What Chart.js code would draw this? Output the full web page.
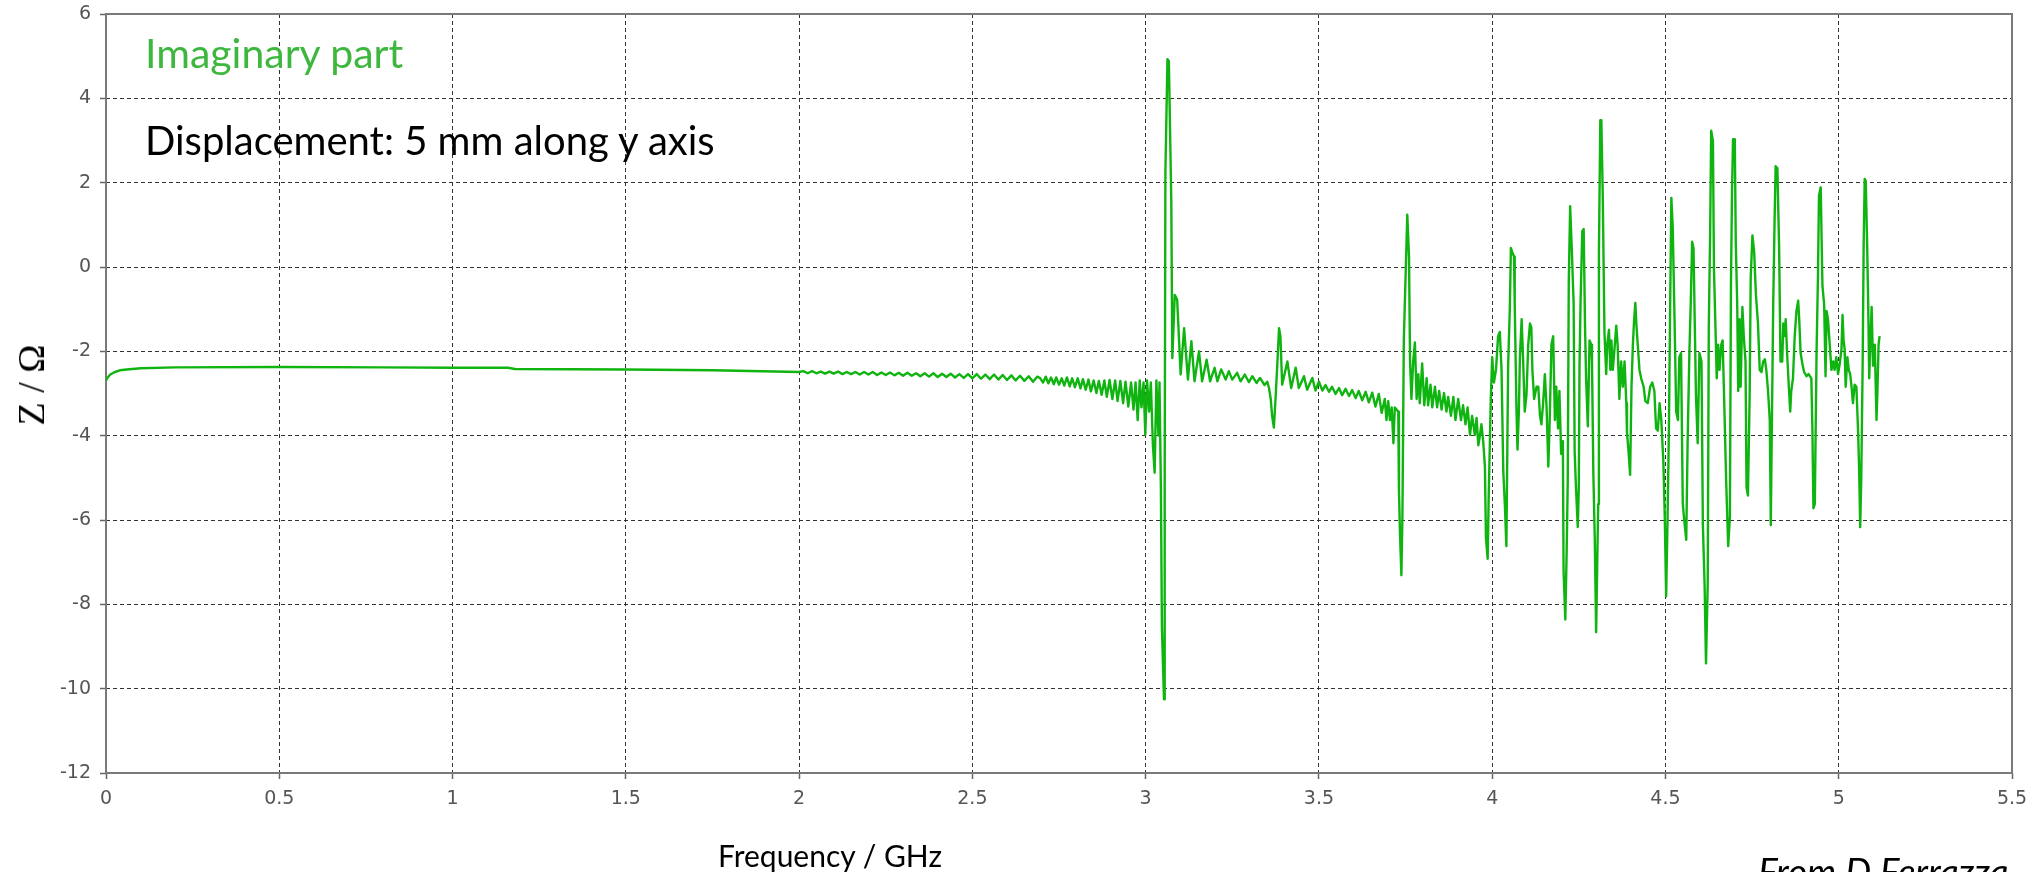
<!DOCTYPE html>
<html>
<head>
<meta charset="utf-8">
<script src="https://cdn.jsdelivr.net/npm/chart.js@4.4.1/dist/chart.umd.min.js"></script>
<style>
  html, body { margin: 0; padding: 0; background: #fff; }
  #wrap { position: relative; width: 2040px; height: 872px; overflow: hidden; background: #fff; }
  .note { position: absolute; white-space: nowrap; line-height: 1; font-family: Lato, "Open Sans", sans-serif; }
</style>
</head>
<body>
<div id="wrap">
  <canvas id="impChart" width="2040" height="872"></canvas>
  <div class="note" style="left:145px; top:32px; font-size:41px; color:#3db73d;">Imaginary part</div>
  <div class="note" style="left:145px; top:120px; font-size:40px; color:#000;">Displacement: 5 mm along y axis</div>
  <div class="note" style="left:830px; top:840px; font-size:30px; color:#000; transform:translateX(-50%);">Frequency / GHz</div>
  <div class="note" style="left:1758px; top:852px; font-size:37px; color:#000; font-style:italic;">From D Ferrazza</div>
  <div class="note" style="left:31px; top:385px; font-size:38px; color:#000; font-family:'Liberation Serif', serif; transform:translate(-50%,-50%) rotate(-90deg);">Z / Ω</div>
</div>
<script>
// axis ticks
const xTicks = [0, 0.5, 1, 1.5, 2, 2.5, 3, 3.5, 4, 4.5, 5, 5.5];
const yTicks = [-12, -10, -8, -6, -4, -2, 0, 2, 4, 6];

// flat part (0 - 2 GHz)
const freqFlat = [0, 0.005, 0.012, 0.026, 0.04, 0.06, 0.1, 0.2, 0.5, 0.8, 1.0, 1.16, 1.18, 1.5, 1.75, 2.0];
const zFlat = [-2.69, -2.62, -2.55, -2.49, -2.45, -2.43, -2.40, -2.38, -2.37, -2.38, -2.39, -2.39, -2.42, -2.43, -2.45, -2.49];

// small ripple (2 - 2.7 GHz)
const freqRipple = [2.0125, 2.025, 2.0375, 2.05, 2.0625, 2.075, 2.0875, 2.1, 2.1125, 2.125,
  2.1375, 2.15, 2.1625, 2.175, 2.1875, 2.2, 2.2125, 2.225, 2.2375, 2.25,
  2.2625, 2.275, 2.2875, 2.3, 2.3125, 2.325, 2.3375, 2.35, 2.3625, 2.375,
  2.3875, 2.4, 2.4125, 2.425, 2.4375, 2.45, 2.4625, 2.475, 2.4875, 2.5,
  2.5125, 2.525, 2.5375, 2.55, 2.5625, 2.575, 2.5875, 2.6, 2.6125, 2.625,
  2.6375, 2.65, 2.6625, 2.675, 2.6875];
const zRipple = [-2.47, -2.52, -2.47, -2.52, -2.48, -2.53, -2.48, -2.53, -2.48, -2.54,
  -2.49, -2.54, -2.49, -2.55, -2.49, -2.55, -2.49, -2.56, -2.50, -2.56,
  -2.50, -2.57, -2.51, -2.58, -2.51, -2.58, -2.52, -2.59, -2.52, -2.60,
  -2.52, -2.61, -2.53, -2.61, -2.53, -2.62, -2.54, -2.63, -2.54, -2.64,
  -2.54, -2.65, -2.55, -2.66, -2.55, -2.67, -2.56, -2.68, -2.57, -2.69,
  -2.58, -2.70, -2.59, -2.72, -2.60];

// first resonance (~3.05 GHz)
const freqMode1 = [2.696, 2.704, 2.712, 2.719, 2.727, 2.735, 2.742, 2.750, 2.758, 2.765,
  2.773, 2.781, 2.788, 2.796, 2.804, 2.812, 2.819, 2.827, 2.835, 2.842,
  2.850, 2.858, 2.865, 2.873, 2.881, 2.888, 2.896, 2.904, 2.912, 2.919,
  2.927, 2.935, 2.942, 2.950, 2.958, 2.965, 2.971, 2.977, 2.983, 2.988,
  2.994, 2.999, 3.004, 3.010, 3.015, 3.021, 3.026, 3.031, 3.037, 3.040,
  3.044, 3.047, 3.050, 3.053, 3.055, 3.057, 3.060, 3.063, 3.067,
  3.074, 3.077, 3.084, 3.091, 3.101, 3.111, 3.122, 3.132, 3.141, 3.154,
  3.163, 3.176, 3.186];
const zMode1 = [-2.64, -2.74, -2.60, -2.76, -2.62, -2.78, -2.62, -2.79, -2.64, -2.81,
  -2.62, -2.83, -2.64, -2.85, -2.64, -2.88, -2.66, -2.91, -2.67, -2.95,
  -2.69, -2.99, -2.70, -3.03, -2.69, -3.08, -2.68, -3.13, -2.69, -3.18,
  -2.70, -3.23, -2.72, -3.31, -2.74, -3.38, -2.74, -3.63, -2.69, -3.33,
  -2.74, -3.98, -2.69, -3.43, -2.74, -4.23, -4.88, -2.69, -4.00, -2.74,
  -5.22, -8.56, -9.40, -10.25, -5.27, 2.24, 3.58, 4.93, 4.88,
  1.58, -2.16, -0.66, -0.78, -2.55, -1.45, -2.67, -1.76, -2.71, -2.00,
  -2.71, -2.20, -2.71];

// 3.2 - 3.69 GHz
const freqMode2 = [3.199, 3.207, 3.218, 3.231, 3.240, 3.250, 3.264, 3.274, 3.286, 3.298,
  3.308, 3.320, 3.330, 3.343, 3.351, 3.356, 3.361, 3.365, 3.370, 3.375,
  3.380, 3.385, 3.389, 3.394, 3.409, 3.420, 3.433, 3.442, 3.457, 3.466,
  3.481, 3.490, 3.500, 3.510, 3.519, 3.529, 3.538, 3.548, 3.558, 3.567,
  3.577, 3.587, 3.596, 3.606, 3.615, 3.625, 3.635, 3.644, 3.654, 3.663,
  3.673, 3.681];
const zMode2 = [-2.39, -2.71, -2.43, -2.67, -2.47, -2.67, -2.51, -2.71, -2.55, -2.73,
  -2.59, -2.75, -2.63, -2.80, -2.72, -2.87, -3.13, -3.53, -3.81, -3.10,
  -2.30, -1.45, -1.65, -2.79, -2.24, -2.87, -2.39, -2.87, -2.59, -2.91,
  -2.63, -2.93, -2.72, -2.93, -2.80, -2.96, -2.84, -3.01, -2.87, -3.04,
  -2.89, -3.06, -2.92, -3.11, -2.94, -3.16, -2.96, -3.21, -2.98, -3.31,
  -3.01, -3.46];

// 3.69 - 4.18 GHz
const freqMode3 = [3.690, 3.695, 3.700, 3.705, 3.710, 3.715, 3.719, 3.724, 3.729, 3.731,
  3.734, 3.738, 3.741, 3.745, 3.750, 3.755, 3.760, 3.763, 3.767, 3.772,
  3.777, 3.782, 3.787, 3.791, 3.798, 3.804, 3.811, 3.815, 3.822, 3.827,
  3.835, 3.841, 3.847, 3.854, 3.861, 3.868, 3.873, 3.881, 3.888, 3.894,
  3.902, 3.910, 3.916, 3.923, 3.929, 3.936, 3.942, 3.950, 3.955, 3.960,
  3.964, 3.969, 3.974, 3.979, 3.982, 3.987, 3.990, 3.996, 4.000, 4.005,
  4.011, 4.017, 4.022, 4.027, 4.032, 4.037, 4.041, 4.046, 4.051, 4.054,
  4.058, 4.063, 4.065, 4.070, 4.073, 4.077, 4.080, 4.085, 4.089, 4.094,
  4.099, 4.104, 4.109, 4.113, 4.116, 4.121, 4.128, 4.133, 4.138, 4.142,
  4.147, 4.152, 4.157, 4.162, 4.166, 4.171, 4.176, 4.181];
const zMode3 = [-3.13, -3.63, -3.18, -3.63, -3.33, -4.18, -3.33, -3.38, -3.43, -5.32,
  -6.32, -7.31, -5.92, -1.74, -0.25, 1.24, 0.25, -2.24, -3.13, -2.24,
  -1.79, -3.13, -2.54, -3.23, -2.29, -3.28, -2.64, -3.28, -2.79, -3.33,
  -2.84, -3.33, -2.94, -3.38, -2.99, -3.43, -3.08, -3.53, -3.08, -3.63,
  -3.13, -3.63, -3.28, -3.73, -3.33, -3.98, -3.53, -3.98, -3.58, -4.23,
  -4.03, -3.73, -4.13, -4.73, -6.42, -6.92, -5.42, -3.13, -2.14, -2.74,
  -2.44, -1.64, -1.54, -2.44, -4.83, -5.72, -6.62, -2.34, -0.95, 0.45,
  0.35, 0.25, -0.85, -3.33, -4.33, -3.43, -2.14, -1.24, -2.14, -3.43,
  -3.03, -1.84, -1.34, -1.44, -2.44, -3.13, -2.84, -2.84, -3.53, -3.73,
  -3.23, -2.54, -3.33, -4.73, -3.63, -1.84, -1.64, -3.63];

// 4.18 - 4.68 GHz
const freqMode4 = [4.185, 4.190, 4.194, 4.199, 4.204, 4.206, 4.211, 4.215, 4.218, 4.221,
  4.225, 4.230, 4.235, 4.238, 4.242, 4.247, 4.250, 4.252, 4.255, 4.260,
  4.264, 4.268, 4.271, 4.276, 4.281, 4.286, 4.288, 4.292, 4.296, 4.300,
  4.303, 4.306, 4.308, 4.312, 4.315, 4.319, 4.324, 4.329, 4.332, 4.337,
  4.341, 4.344, 4.348, 4.353, 4.358, 4.362, 4.367, 4.372, 4.377, 4.382,
  4.387, 4.389, 4.394, 4.398, 4.402, 4.406, 4.409, 4.413, 4.416, 4.420,
  4.425, 4.430, 4.437, 4.442, 4.449, 4.456, 4.462, 4.468, 4.473, 4.478,
  4.483, 4.488, 4.494, 4.498, 4.502, 4.506, 4.510, 4.513, 4.517, 4.521,
  4.526, 4.531, 4.536, 4.540, 4.545, 4.550, 4.555, 4.560, 4.564, 4.569,
  4.573, 4.577, 4.581, 4.585, 4.588, 4.593, 4.598, 4.604, 4.608, 4.613,
  4.617, 4.622, 4.625, 4.629, 4.632, 4.637, 4.640, 4.644, 4.648, 4.652,
  4.656, 4.661, 4.665, 4.670, 4.675, 4.681];
const zMode4 = [-2.84, -3.83, -2.94, -4.43, -4.13, -7.21, -8.36, -6.72, -5.12, -0.35,
  1.44, 0.35, -0.85, -4.38, -5.27, -6.17, -5.22, -2.34, -0.85, 0.85,
  0.90, -1.44, -2.64, -3.78, -1.74, -1.84, -2.24, -4.93, -6.42, -8.66,
  -7.11, -5.62, 0.35, 3.48, 3.48, 1.74, -1.54, -2.54, -1.84, -1.49,
  -2.44, -1.74, -2.44, -1.94, -1.39, -1.84, -3.13, -2.24, -2.84, -2.24,
  -3.23, -3.93, -4.43, -4.93, -2.84, -1.84, -1.34, -0.85, -1.34, -1.84,
  -2.44, -2.64, -2.84, -3.18, -3.23, -2.84, -2.74, -2.94, -3.83, -3.88,
  -3.23, -3.63, -4.63, -5.92, -7.81, -6.02, -3.83, -1.34, 1.64, 0.95,
  -1.14, -3.43, -3.63, -2.14, -2.04, -5.62, -6.07, -6.47, -4.13, -2.04,
  -0.85, 0.60, 0.45, -1.54, -3.03, -4.18, -2.04, -2.24, -6.12, -7.56,
  -9.40, -7.51, -1.44, 0.85, 3.23, 2.99, -0.05, -1.34, -2.64, -1.84,
  -2.44, -1.84, -1.74, -3.33, -5.02, -6.62];

// 4.68 - 5.12 GHz
const freqMode5 = [4.686, 4.689, 4.692, 4.695, 4.700, 4.703, 4.707, 4.710, 4.714, 4.717,
  4.722, 4.726, 4.731, 4.734, 4.738, 4.743, 4.746, 4.751, 4.756, 4.761,
  4.767, 4.772, 4.777, 4.782, 4.787, 4.791, 4.796, 4.801, 4.804, 4.806,
  4.811, 4.815, 4.818, 4.823, 4.828, 4.832, 4.837, 4.840, 4.844, 4.847,
  4.851, 4.856, 4.860, 4.863, 4.868, 4.873, 4.878, 4.883, 4.886, 4.890,
  4.895, 4.900, 4.907, 4.913, 4.921, 4.924, 4.927, 4.931, 4.936, 4.940,
  4.943, 4.948, 4.953, 4.958, 4.962, 4.965, 4.969, 4.974, 4.979, 4.984,
  4.988, 4.993, 4.998, 5.003, 5.008, 5.011, 5.014, 5.017, 5.020, 5.025,
  5.029, 5.033, 5.037, 5.041, 5.046, 5.051, 5.056, 5.059, 5.062, 5.065,
  5.069, 5.072, 5.075, 5.078, 5.082, 5.085, 5.088, 5.091, 5.095, 5.099,
  5.104, 5.109, 5.112, 5.115, 5.118];
const zMode5 = [-5.92, -0.45, 1.74, 3.03, 3.03, 0.55, -0.85, -2.94, -1.24, -2.84,
  -0.95, -1.64, -2.24, -5.22, -5.42, -3.03, -0.25, 0.75, 0.35, -0.65,
  -1.34, -2.44, -2.49, -2.24, -2.19, -2.44, -2.94, -3.63, -6.12, -4.53,
  -0.85, 1.14, 2.39, 2.34, 0.45, -2.24, -2.24, -1.34, -1.64, -1.24,
  -2.04, -2.84, -3.43, -2.94, -2.64, -1.64, -1.04, -0.80, -1.24, -2.04,
  -2.29, -2.49, -2.59, -2.54, -2.64, -3.83, -5.72, -5.62, -2.04, -0.25,
  1.69, 1.89, -0.45, -0.90, -2.59, -1.04, -1.24, -1.84, -2.44, -2.24,
  -2.44, -2.14, -2.54, -2.29, -1.94, -1.14, -1.74, -1.94, -2.84, -2.14,
  -2.44, -2.54, -2.84, -3.23, -2.79, -2.84, -3.93, -4.83, -6.17, -5.02,
  -2.34, 0.55, 2.09, 2.04, 0.55, -0.85, -2.64, -1.84, -0.95, -2.34,
  -1.84, -3.63, -2.84, -1.84, -1.64];

const segments = [
  [freqFlat, zFlat], [freqRipple, zRipple], [freqMode1, zMode1], [freqMode2, zMode2],
  [freqMode3, zMode3], [freqMode4, zMode4], [freqMode5, zMode5]
];
const points = [];
segments.forEach(([f, z]) => {
  const n = Math.min(f.length, z.length);
  for (let i = 0; i < n; i++) points.push({ x: f[i], y: z[i] });
});

// solid grey box round the plot area
const plotFrame = {
  id: 'plotFrame',
  beforeDatasetsDraw(chart) {
    const { ctx, chartArea: a } = chart;
    ctx.save();
    ctx.setLineDash([]);
    ctx.strokeStyle = '#7a7a7a';
    ctx.lineWidth = 2;
    ctx.strokeRect(a.left, a.top, a.right - a.left, a.bottom - a.top);
    ctx.restore();
  }
};

const gridStyle = {
  color: '#333',
  lineWidth: 1,
  tickLength: 6,
  tickColor: '#666',
  tickWidth: 1.5,
  tickBorderDash: []
};

const ctx = document.getElementById('impChart').getContext('2d');
new Chart(ctx, {
  type: 'line',
  data: {
    datasets: [{
      data: points,
      borderColor: '#10b410',
      borderWidth: 2.4,
      borderJoinStyle: 'round',
      pointRadius: 0,
      tension: 0,
      fill: false
    }]
  },
  options: {
    responsive: false,
    animation: false,
    devicePixelRatio: 1,
    layout: { padding: { top: 14, right: 28, bottom: 0, left: 0 } },
    plugins: {
      legend: { display: false },
      tooltip: { enabled: false }
    },
    scales: {
      x: {
        type: 'linear',
        min: 0,
        max: 5.5,
        afterBuildTicks: s => { s.ticks = xTicks.map(v => ({ value: v })); },
        afterFit: s => { s.height = 99; s.paddingLeft = 0; s.paddingRight = 0; },
        grid: gridStyle,
        border: { display: false, dash: [4, 3] },
        ticks: {
          padding: 9,
          color: '#555',
          font: { family: 'DejaVu Sans', size: 19 },
          maxRotation: 0,
          callback: v => String(v)
        }
      },
      y: {
        type: 'linear',
        min: -12,
        max: 6,
        afterBuildTicks: s => { s.ticks = yTicks.map(v => ({ value: v })); },
        afterFit: s => { s.width = 106; s.paddingTop = 0; s.paddingBottom = 0; },
        grid: gridStyle,
        border: { display: false, dash: [4, 3] },
        ticks: {
          padding: 9,
          color: '#555',
          font: { family: 'DejaVu Sans', size: 19 },
          callback: v => String(v)
        }
      }
    }
  },
  plugins: [plotFrame]
});
</script>
</body>
</html>
